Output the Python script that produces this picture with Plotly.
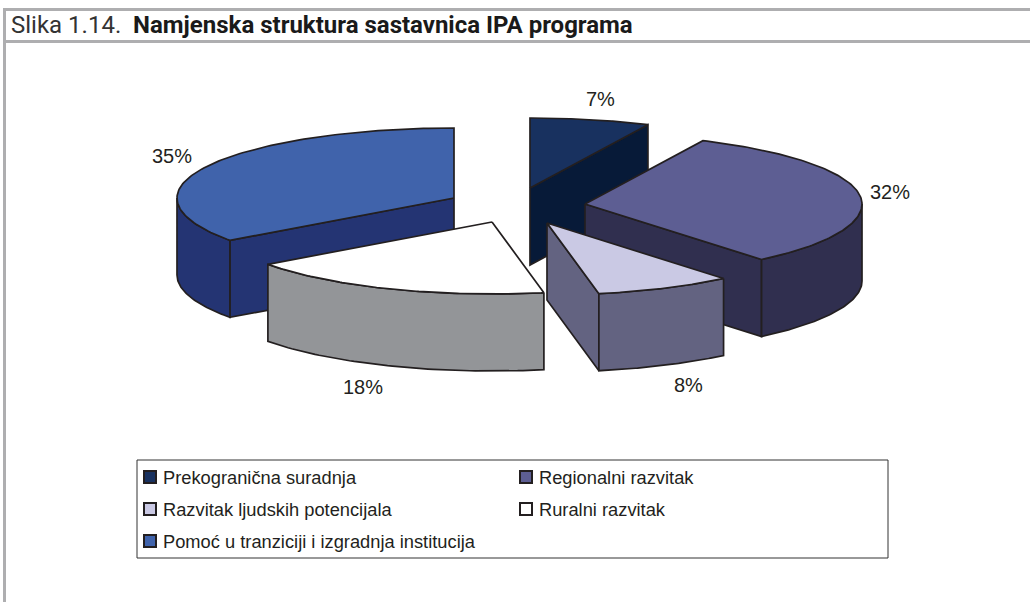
import numpy as np
import plotly.graph_objects as go

# ---- data ----
categories = ["Prekogranična suradnja", "Regionalni razvitak", "Razvitak ljudskih potencijala",
              "Ruralni razvitak", "Pomoć u tranziciji i izgradnja institucija"]
shares = [7, 32, 8, 18, 35]
share_labels = ["7%", "32%", "8%", "18%", "35%"]
title_prefix = "Slika 1.14."
title_main = "Namjenska struktura sastavnica IPA programa"

# ---- styles ----
top_colors = ["#18315f", "#5d5e93", "#cac9e4", "#ffffff", "#4063ab"]
side_colors = ["#071a38", "#302f4f", "#636381", "#939598", "#243473"]
edge = "#231f20"
frame = "#aeaeb0"
text_col = "#231f20"

# ---- layout of the tilted, exploded pie (pixel space of the axes) ----
RX, RY_BACK, RY_FRONT, DEPTH = 277, 70, 72, 77
centers = [(530, 188), (585, 204), (547, 223), (492, 222), (454, 198)]
draw_order = [4, 0, 1, 2, 3]
label_pos = [(600, 99), (890, 192), (688, 385), (363, 387), (172, 156)]
legend_rows = [(150, 477), (526, 477), (150, 509), (526, 509), (150, 541)]

fig = go.Figure()


def poly(xs, ys, fill, name):
    fig.add_trace(go.Scatter(x=xs, y=ys, mode="lines", fill="toself", fillcolor=fill,
                             line=dict(color=edge, width=1.7), name=name,
                             hoverinfo="name", showlegend=False))


edges = np.cumsum([0] + shares) / sum(shares) * 360.0
for i in draw_order:
    cx, cy = centers[i]
    t0, t1 = edges[i], edges[i + 1]

    def px(t):
        return cx + RX * np.sin(np.radians(t))

    def py(t):
        c = np.cos(np.radians(t))
        return cy - np.where(c > 0, RY_BACK, RY_FRONT) * c

    # cut faces that look towards the viewer
    for t, visible in ((t0, np.sin(np.radians(t0)) < -1e-6), (t1, np.sin(np.radians(t1)) > 1e-6)):
        if visible:
            poly([cx, px(t), px(t), cx, cx], [cy, py(t), py(t) + DEPTH, cy + DEPTH, cy],
                 side_colors[i], categories[i])
    # outer rim
    a, b = max(t0, 90), min(t1, 270)
    if b > a:
        ts = np.linspace(a, b, 60)
        poly(list(px(ts)) + list(px(ts[::-1])) + [px(a)],
             list(py(ts)) + list(py(ts[::-1]) + DEPTH) + [py(a)],
             side_colors[i], categories[i])
    # top face
    ts = np.linspace(t0, t1, 120)
    poly([cx] + list(px(ts)) + [cx], [cy] + list(py(ts)) + [cy], top_colors[i], categories[i])

# legend swatches
fig.add_trace(go.Scatter(x=[p[0] for p in legend_rows], y=[p[1] for p in legend_rows], mode="markers",
                         marker=dict(symbol="square", size=12, color=top_colors,
                                     line=dict(color=edge, width=2)),
                         hoverinfo="skip", showlegend=False))

ann = []
for lab, (x, y) in zip(share_labels, label_pos):
    ann.append(dict(x=x, y=y, text=lab, showarrow=False, font=dict(family="Liberation Sans", size=20, color=text_col)))
for cat, (x, y) in zip(categories, legend_rows):
    ann.append(dict(x=x + 11, y=y, text=cat, xanchor="left", showarrow=False,
                    font=dict(family="Liberation Sans", size=18.3, color=text_col)))
ann.append(dict(x=9, y=25, xanchor="left", showarrow=False, text=title_prefix,
                font=dict(family="Roboto", size=24, color="#333333")))
ann.append(dict(x=131, y=25, xanchor="left", showarrow=False, text=f"<b>{title_main}</b>",
                font=dict(family="Roboto", size=24, color="#1a1a1a")))

shapes = [
    dict(type="rect", x0=137, x1=888, y0=460, y1=558, line=dict(color="#333333", width=1), layer="below"),
    dict(type="line", x0=3, x1=1030, y0=9.5, y1=9.5, line=dict(color=frame, width=3), layer="below"),
    dict(type="line", x0=3, x1=1030, y0=41.5, y1=41.5, line=dict(color=frame, width=3), layer="below"),
    dict(type="line", x0=4.5, x1=4.5, y0=8, y1=602, line=dict(color=frame, width=3), layer="below"),
]

fig.update_layout(
    width=1030, height=602, margin=dict(l=0, r=0, t=0, b=0),
    paper_bgcolor="white", plot_bgcolor="white", showlegend=False,
    xaxis=dict(range=[0, 1030], visible=False, fixedrange=True),
    yaxis=dict(range=[602, 0], visible=False, fixedrange=True),
    annotations=ann, shapes=shapes,
)
fig.write_html("out.html", config=dict(displayModeBar=False),
               post_script="document.body.style.margin='0';document.body.style.overflow='hidden';")
